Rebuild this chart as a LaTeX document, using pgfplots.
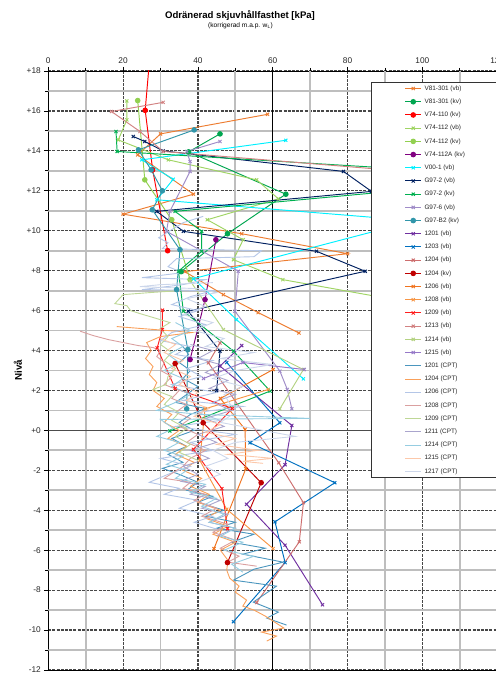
\documentclass[border=0pt]{standalone}
\usepackage{fontspec}
\setmainfont{Liberation Sans}
\usepackage{pgfplots}
\pgfplotsset{compat=1.18}

% series colours
\definecolor{cV81vb}{RGB}{237,125,49}
\definecolor{cV81kv}{RGB}{0,166,80}
\definecolor{cV74kv}{RGB}{255,0,0}
\definecolor{cV112vb}{RGB}{160,212,100}
\definecolor{cV112kv}{RGB}{146,208,80}
\definecolor{cV112A}{RGB}{128,0,128}
\definecolor{cV00}{RGB}{0,240,255}
\definecolor{cG2vb}{RGB}{0,32,96}
\definecolor{cG2kv}{RGB}{0,176,80}
\definecolor{cG6}{RGB}{160,140,200}
\definecolor{cGB2}{RGB}{49,150,170}
\definecolor{cA}{RGB}{112,48,160}
\definecolor{cB}{RGB}{0,112,192}
\definecolor{cC}{RGB}{205,110,110}
\definecolor{cD}{RGB}{192,0,0}
\definecolor{cE}{RGB}{240,115,30}
\definecolor{cF}{RGB}{247,150,70}
\definecolor{cG}{RGB}{255,30,30}
\definecolor{cH}{RGB}{210,130,130}
\definecolor{cI}{RGB}{180,210,130}
\definecolor{cJ}{RGB}{150,120,200}
\definecolor{p1201}{RGB}{75,150,190}
\definecolor{p1204}{RGB}{249,160,90}
\definecolor{p1206}{RGB}{180,198,231}
\definecolor{p1208}{RGB}{218,160,160}
\definecolor{p1209}{RGB}{190,215,150}
\definecolor{p1211}{RGB}{170,165,205}
\definecolor{p1214}{RGB}{150,205,225}
\definecolor{p1215}{RGB}{252,200,170}
\definecolor{p1217}{RGB}{205,215,235}
\definecolor{gridminor}{RGB}{190,190,190}

\pgfplotsset{
  vb/.style={color=#1, line width=0.95pt, mark=x, mark size=2.2pt, mark options={solid}},
  kv/.style={color=#1, line width=0.95pt, mark=*, mark size=2.3pt, mark options={solid}},
  cpt/.style={color=#1, line width=0.9pt, no marks},
}

\begin{document}
\begin{tikzpicture}
\useasboundingbox (0,0) rectangle (496pt,673pt);
\node[font=\fontsize{9.6}{11}\selectfont\bfseries] at (240pt,657pt) {Odränerad skjuvhållfasthet [kPa]};
\node[font=\fontsize{6.6}{8}\selectfont] at (240.5pt,647pt) {(korrigerad m.a.p. w\textsubscript{L})};
\node[rotate=90,font=\fontsize{9.8}{11}\selectfont\bfseries] at (18pt,303pt) {Nivå};
\begin{axis}[
  at={(48.3pt,3pt)}, anchor=south west, scale only axis,
  width=448.9pt, height=599pt,
  xmin=0, xmax=120, ymin=-12, ymax=18,
  xtick={0,20,...,120}, xticklabels={0,20,40,60,80,100,120},
  ytick={-12,-10,...,18},
  yticklabels={-12,-10,-8,-6,-4,-2,+0,+2,+4,+6,+8,+10,+12,+14,+16,+18},
  minor x tick num=1, minor y tick num=1,
  xtick pos=upper, xticklabel pos=upper, ytick pos=left,
  tick align=outside, major tick length=4pt, minor tick length=3pt,
  grid=major,
  major grid style={black!72, line width=1.2pt, dash pattern=on 3pt off 1.2pt},
  axis line style={black, line width=0.9pt},
  tick style={black, line width=0.8pt},
  ticklabel style={font=\fontsize{8.3}{10}\selectfont, text=black!85},
  legend cell align=left,
  legend image code/.code={\draw[mark repeat=2,mark phase=2,#1] plot coordinates {(0pt,0pt) (8.2pt,0pt) (16.4pt,0pt)};},
  legend style={at={(axis description cs:0.7188,0.9817)}, anchor=north west,
    draw=black!80, line width=1.2pt, fill=white,
    font=\fontsize{6.4}{7.5}\selectfont, text=black!85,
    inner xsep=33pt, inner ysep=3pt, row sep=7.2pt, column sep=2.6pt,
    nodes={inner sep=0pt, text height=4.7pt, text depth=1.3pt}},
]
% light grid lines at the odd tens and odd levels
\pgfplotsinvokeforeach{10,30,50,70,90,110}{\draw[gridminor, line width=1.8pt] (axis cs:#1,-12) -- (axis cs:#1,18);}
\pgfplotsinvokeforeach{-11,-9,-7,-5,-3,-1,1,3,5,7,9,11,13,15,17}{\draw[gridminor, line width=1.8pt] (axis cs:0,#1) -- (axis cs:120,#1);}
% heavier reference lines at 60 kPa and level +0
\draw[black, line width=0.7pt] (axis cs:60,-12) -- (axis cs:60,18);
\draw[black!70, line width=1.3pt] (axis cs:0,0) -- (axis cs:120,0);

\addplot[vb=cV81vb] coordinates {(58.6,15.83) (30.0,14.85) (23.9,13.8) (38.8,11.83) (20.0,10.83) (51.7,9.85) (80.0,8.85) (36.5,7.95) (46.8,6.8) (56.1,5.9) (67.0,4.88)};
\addlegendentry{V81-301 (vb)}
\addplot[kv=cV81kv] coordinates {(45.9,14.85) (37.5,13.95) (63.5,11.83) (47.9,9.85) (35.5,7.95)};
\addlegendentry{V81-301 (kv)}
\addplot[kv=cV74kv] coordinates {(27.5,19.5) (25.9,16.03) (27.9,13.05) (31.9,9.0)};
\addlegendentry{V74-110 (kv)}
\addplot[vb=cV112vb] coordinates {(21.0,16.5) (21.0,15.55) (18.7,14.55) (32.1,13.55) (55.7,12.55) (61.5,11.6) (42.5,10.55) (52.1,9.55) (49.5,8.55) (62.7,7.55) (100,6.3)};
\addlegendentry{V74-112 (vb)}
\addplot[kv=cV112kv] coordinates {(23.9,16.52) (25.8,12.55) (33.0,10.55) (37.9,7.55)};
\addlegendentry{V74-112 (kv)}
\addplot[kv=cV112A] coordinates {(44.8,9.55) (41.9,6.55) (37.9,3.55)};
\addlegendentry{V74-112A (kv)}
\addplot[vb=cV00] coordinates {(63.5,14.53) (25.0,13.55) (33.4,12.58) (29.0,11.55) (98,10.5) (38.8,7.6) (50.3,5.55) (68.2,2.58)};
\addlegendentry{V00-1 (vb)}
\addplot[vb=cG2vb] coordinates {(22.7,14.72) (25.8,14.47) (30.7,14.0) (78.9,12.97) (86.4,11.97) (29.0,10.97) (36.1,9.97) (71.7,8.97) (84.7,7.97) (37.4,5.97) (45.9,3.97) (45.0,2.0)};
\addlegendentry{G97-2 (vb)}
\addplot[vb=cG2kv] coordinates {(18.1,14.97) (18.4,13.97) (132,12.67) (33.9,10.97) (41.0,9.97) (41.0,8.97) (34.8,7.97) (36.1,5.97) (49.5,3.97) (59.3,1.97) (32.5,-0.03)};
\addlegendentry{G97-2 (kv)}
\addplot[vb=cG6] coordinates {(45.9,14.47) (37.0,13.97) (37.9,13.47) (37.9,12.97) (32.5,10.97) (31.6,9.97) (50.8,7.97) (49.9,5.97) (61.9,2.97) (63.9,2.05) (65.1,1.08)};
\addlegendentry{G97-6 (vb)}
\addplot[kv=cGB2] coordinates {(39.0,15.05) (24.1,14.05) (27.5,13.05) (30.5,12.0) (27.8,11.05) (35.2,9.05) (34.3,7.05) (37.3,4.05) (37.0,1.08)};
\addlegendentry{G97-B2 (kv)}
\addplot[vb=cA] coordinates {(51.7,4.25) (45.9,3.22) (65.1,0.25) (63.3,-1.72) (53.0,-3.7) (63.3,-5.75) (73.3,-8.73)};
\addlegendentry{1201 (vb)}
\addplot[vb=cB] coordinates {(47.7,3.4) (61.9,0.38) (53.9,-0.62) (76.6,-2.62) (60.6,-4.58) (63.3,-6.62) (49.5,-9.58)};
\addlegendentry{1203 (vb)}
\addplot[vb=cC] coordinates {(45.9,4.38) (42.8,3.38) (61.6,-1.62) (68.2,-3.62) (67.1,-5.58) (55.7,-8.62)};
\addlegendentry{1204 (vb)}
\addplot[kv=cD] coordinates {(33.9,3.35) (41.4,0.38) (56.9,-2.62) (47.9,-6.62)};
\addlegendentry{1204 (kv)}
\addplot[vb=cE] coordinates {(60.1,3.05) (46.0,1.6) (52.6,0.05) (52.8,-1.92) (44.3,-5.92)};
\addlegendentry{1206 (vb)}
\addplot[vb=cF] coordinates {(58.8,2.05) (41.9,1.08) (40.5,-1.5) (47.7,-3.95) (60.1,-5.92)};
\addlegendentry{1208 (vb)}
\addplot[vb=cG] coordinates {(30.5,6.02) (30.5,5.05) (29.1,4.13) (33.9,2.1) (49.2,1.1) (38.8,-0.95) (46.4,-2.92) (47.9,-4.92)};
\addlegendentry{1209 (vb)}
\addplot[vb=cH] coordinates {(30.7,16.43) (16.9,15.97) (24.5,14.97) (30.7,13.97) (110,12.75)};
\addlegendentry{1213 (vb)}
\addplot[vb=cI] coordinates {(37.9,7.5) (46.8,5.05) (68.2,3.05) (61.9,1.08)};
\addlegendentry{1214 (vb)}
\addplot[vb=cJ] coordinates {(41.5,2.6) (52.0,3.4) (68.4,3.05)};
\addlegendentry{1215 (vb)}

\addplot[cpt=p1201] coordinates {(36,4.2) (37.5,3.8) (35,3.4) (38,3.0) (36,2.6) (40,2.2) (37,1.8) (34,1.4) (42,1.1) (38,0.8) (35,0.4) (39,0.0) (33,-0.4) (37,-0.8) (32,-1.2) (36,-1.6) (30.5,-1.9) (35,-2.2) (40,-2.6) (37,-3.0) (44,-3.3) (40,-3.6) (47,-4.0) (42,-4.3) (50,-4.6) (45,-4.9) (55,-5.2) (49,-5.6) (58,-5.9) (52,-6.2) (62.8,-6.6) (55,-6.95) (49.5,-7.5) (61,-7.8) (54.8,-8.6) (61.5,-9.1) (58.4,-9.4) (63.7,-9.75)};
\addlegendentry{1201 (CPT)}
\addplot[cpt=p1204] coordinates {(18.3,5.2) (25,5.1) (32,5.0) (38.3,4.9) (30,4.7) (26.3,4.4) (27.5,4.0) (26,3.6) (28,3.2) (27,2.8) (29,2.4) (28,2.0) (31,1.6) (29,1.2) (33,0.8) (31,0.4) (35,0.0) (32,-0.4) (37,-0.8) (34,-1.2) (39,-1.6) (36,-2.0) (41,-2.4) (38,-2.8) (43,-3.2) (40,-3.6) (46,-4.0) (42,-4.4) (48,-4.8) (44,-5.2) (50,-5.6) (46,-6.0) (48,-6.5) (47.7,-7.0) (48.5,-7.4) (51,-7.8) (50,-8.1) (53,-8.5) (52,-8.8) (55,-9.0) (58,-9.3) (63,-9.9) (57,-10.1) (61,-10.3) (58.4,-10.55)};
\addlegendentry{1204 (CPT)}
\addplot[cpt=p1206] coordinates {(41.4,10.72) (36,10.4) (29.5,9.65) (32,9.4) (30.5,9.1) (57,9.0) (55,8.7) (34.3,8.6) (32,8.2) (36,7.9) (25,7.65) (42,7.55) (36,7.3) (25,7.05) (44,7.0) (38,6.7) (33,6.3) (40,6.0) (35,5.7) (42,5.3) (33,4.9) (30,4.5) (38,4.2) (34,3.8) (44,3.5) (37,3.1) (41,2.7) (33,2.3) (45,1.9) (36,1.5) (52,1.2) (40,0.9) (46,0.5) (34,0.2) (50,-0.2) (38,-0.6) (44,-1.0) (30,-1.4) (38,-1.8) (32,-2.2) (27,-2.6) (35,-2.9) (31,-3.2) (40,-3.5) (35,-3.9) (44,-4.3) (39,-4.6) (46,-5.0)};
\addlegendentry{1206 (CPT)}
\addplot[cpt=p1208] coordinates {(8.5,4.97) (12,4.75) (16,4.55) (20,4.4) (24,4.25) (28,4.15) (30,4.0) (29,3.7) (31,3.4) (30,3.0) (33,2.7) (31,2.3) (35,2.0) (33,1.6) (37,1.3) (34,0.9) (38,0.6) (35,0.2) (40,-0.2) (37,-0.6) (42,-1.0) (38,-1.4) (36,-1.8) (31,-2.4) (38,-2.6) (36,-2.9) (42,-3.2) (39,-3.5) (45,-3.9) (41,-4.3) (48,-4.7) (44,-5.1) (50,-5.5) (46,-5.9) (51,-6.3) (48,-6.6) (55.7,-6.8)};
\addlegendentry{1208 (CPT)}
\addplot[cpt=p1209] coordinates {(35,7.0) (27,6.9) (20,6.8) (17.8,6.35) (21,6.25) (22,6.0) (24.5,5.85) (29,5.6) (32.5,5.4) (29.9,5.1) (32,4.7) (30,4.3) (33,3.9) (31,3.5) (34,3.1) (32,2.7) (31.5,2.3) (28,2.05) (33,1.7) (31,1.3) (35,0.9) (33,0.5) (37,0.1) (34,-0.3) (38,-0.7) (35,-1.1) (40,-1.5)};
\addlegendentry{1209 (CPT)}
\addplot[cpt=p1211] coordinates {(38,4.3) (44,4.0) (40,3.6) (46,3.3) (42,2.9) (48,2.5) (43,2.1) (50,1.8) (44,1.4) (49,1.0) (42,0.6) (47,0.2) (40,-0.2) (45,-0.6) (38,-1.0) (43,-1.4) (36,-1.8) (40,-2.2) (35.5,-2.55) (42,-2.8) (38,-3.2) (46,-3.5) (41,-3.9) (48,-4.2) (43,-4.6) (50,-4.9) (45,-5.3)};
\addlegendentry{1211 (CPT)}
\addplot[cpt=p1214] coordinates {(34,5.4) (38,5.0) (33,4.6) (36,4.2) (32,3.8) (35,3.4) (31,3.0) (36,2.6) (33,2.2) (38,1.8) (34,1.4) (29,1.0) (41,0.8) (70,0.6) (30,0.55) (33.4,0.1) (29,-0.3) (35,-0.6) (31,-1.0) (36,-1.3) (31.6,-1.7) (37,-2.0) (34,-2.4) (42,-2.7) (38,-3.1) (45,-3.4) (41,-3.8) (47,-4.2) (43,-4.6) (50,-4.9) (46,-5.3) (52,-5.6) (47,-6.0) (55,-6.3) (49,-6.7) (52,-7.1)};
\addlegendentry{1214 (CPT)}
\addplot[cpt=p1215] coordinates {(30,4.6) (34,4.3) (31,3.9) (36,3.5) (33,3.1) (38,2.7) (35,2.3) (40,1.9) (37,1.5) (43,1.1) (39,0.7) (46,0.3) (42,-0.1) (50,-0.4) (45,-0.7) (56,-1.0) (48,-1.2) (60,-1.4) (52,-1.55) (57.4,-1.65)};
\addlegendentry{1215 (CPT)}
\addplot[cpt=p1217] coordinates {(44,7.4) (30,7.3) (24.5,7.2) (40,7.1) (45,6.9) (37,6.6) (42,6.2) (36,5.8) (44,5.4) (39,5.0) (47,4.6) (42,4.2) (55,3.9) (46,3.6) (60,3.3) (50,3.0) (44,2.6) (52,2.2) (47,1.8) (50,0.9) (46,0.4) (66,-0.3) (50,-0.6) (44,-1.0) (48,-1.4) (42,-1.8) (46,-2.2) (40,-2.6)};
\addlegendentry{1217 (CPT)}
\end{axis}
\end{tikzpicture}
\end{document}
